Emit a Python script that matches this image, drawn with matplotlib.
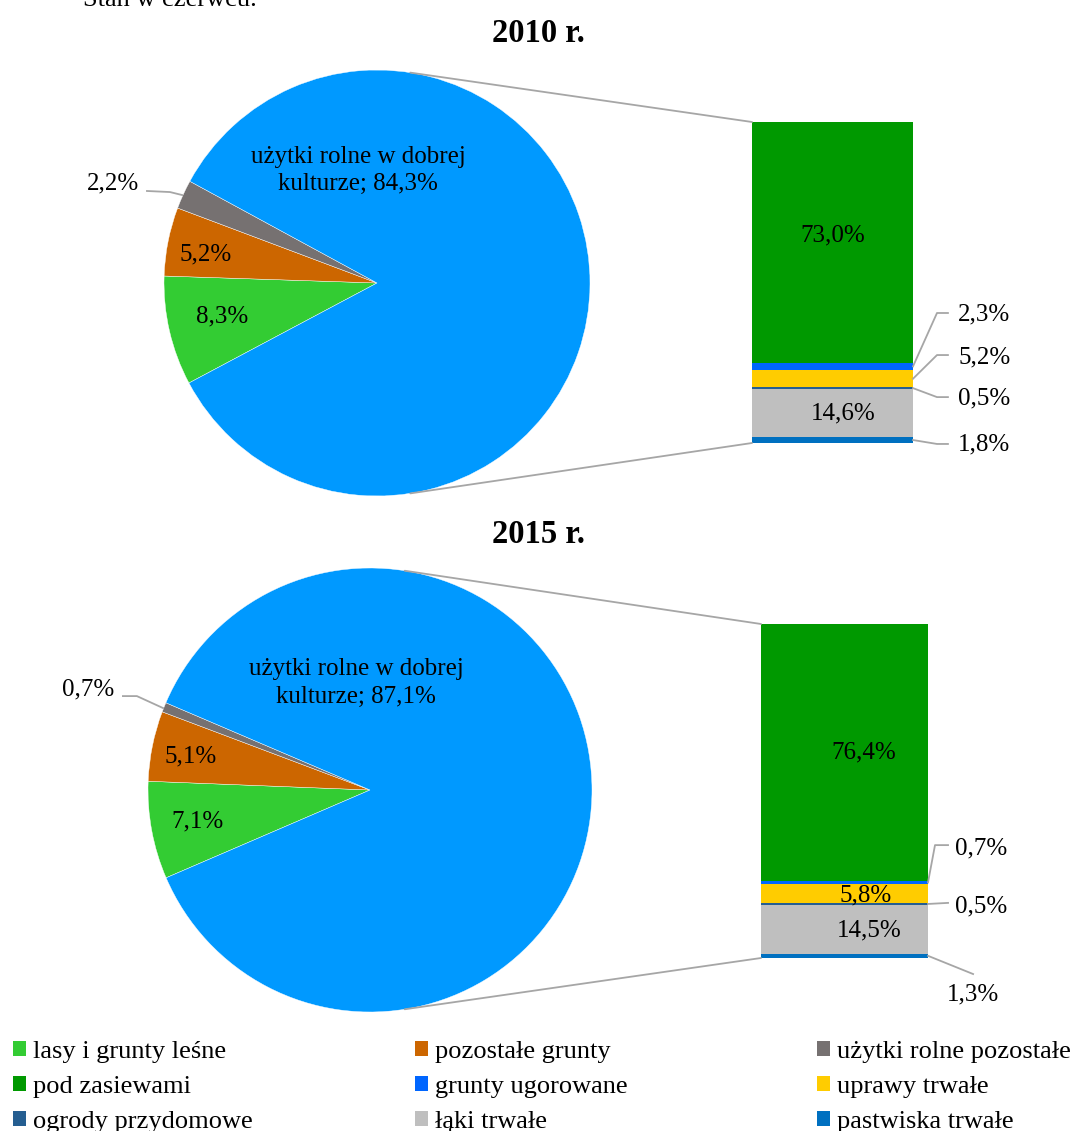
import matplotlib
matplotlib.use("Agg")
import matplotlib.pyplot as plt
from matplotlib.patches import Patch, ConnectionPatch
import numpy as np

plt.rcParams['font.family'] = ['Liberation Serif', 'DejaVu Serif']

# --- data ---
years = ["2010 r.", "2015 r."]
pie_names = ["lasy i grunty leśne", "pozostałe grunty", "użytki rolne pozostałe",
             "użytki rolne w dobrej kulturze"]
pie_2010 = [8.3, 5.2, 2.2, 84.3]
pie_2015 = [7.1, 5.1, 0.7, 87.1]
pie_colors = ["#33CC33", "#CC6600", "#767171", "#0099FF"]

# bar segments from bottom to top
bar_names = ["pastwiska trwałe", "łąki trwałe", "ogrody przydomowe", "uprawy trwałe",
             "grunty ugorowane", "pod zasiewami"]
bar_2010 = [1.8, 14.6, 0.5, 5.2, 2.3, 73.0]
bar_2015 = [1.3, 14.5, 0.5, 5.8, 0.7, 76.4]
bar_colors = ["#0070C0", "#BFBFBF", "#255E91", "#FFCC00", "#0066FF", "#009900"]

W, H = 1073, 1131
fig = plt.figure(figsize=(W / 100, H / 100), dpi=100)


def box(x0, y0, x1, y1):
    return [x0 / W, 1 - y1 / H, (x1 - x0) / W, (y1 - y0) / H]


def pct(v):
    return f"{v:.1f}%".replace(".", ",")


line_c = "#A6A6A6"
fs = 18

layouts = [
    dict(pie_box=(164, 70, 590, 496), bar_box=(752, 122, 913, 443), start=208,
         title_y=42, big_lab=(-0.089, 0.53),
         in_pie={0: (-0.728, -0.155), 1: (-0.803, 0.136)},
         out_pie=(2, (-1.239, 0.469), [(-1.08, 0.432), (-0.972, 0.427), (-0.915, 0.413)]),
         in_bar={5: (0.503, 0.02), 1: (0.565, 0.0)},
         out_bar={4: ([(1.149, 0.405), (1.217, 0.405)], (1.28, 0.40), 'left'),
                  3: ([(1.149, 0.274), (1.217, 0.274)], (1.28, 0.265), 'left'),
                  2: ([(1.149, 0.143), (1.217, 0.143)], (1.28, 0.14), 'left'),
                  0: ([(1.149, -0.003), (1.217, -0.003)], (1.28, -0.006), 'left')}),
    dict(pie_box=(148, 568, 592, 1012), bar_box=(761, 624, 928, 958), start=203.3,
         title_y=543, big_lab=(-0.063, 0.482),
         in_pie={0: (-0.775, -0.14), 1: (-0.81, 0.153)},
         out_pie=(2, (-1.27, 0.455), [(-1.113, 0.423), (-1.05, 0.423), (-0.932, 0.369)]),
         in_bar={5: (0.617, 0.0), 3: (0.629, -0.005), 1: (0.647, -0.005)},
         out_bar={4: ([(1.042, 0.338), (1.12, 0.338)], (1.16, 0.329), 'left'),
                  2: ([(1.12, 0.165)], (1.16, 0.153), 'left'),
                  0: ([(1.27, -0.048)], (1.27, -0.108), 'center')}),
]

fig.text(83 / W, 1 - 6 / H, "Stan w czerwcu.", fontsize=19, va="baseline", ha="left")

for year, pv, bv, lay in zip(years, [pie_2010, pie_2015], [bar_2010, bar_2015], layouts):
    fig.text(538 / W, 1 - lay["title_y"] / H, year, fontsize=23.5, fontweight="bold",
             ha="center", va="baseline")

    # pie
    ax = fig.add_axes(box(*lay["pie_box"]))
    ax.pie(pv, colors=pie_colors, startangle=lay["start"], counterclock=False,
           radius=1, wedgeprops=dict(edgecolor="white", linewidth=0.3))
    ax.set_xlim(-1, 1)
    ax.set_ylim(-1, 1)
    ax.axis("off")
    bx, by = lay["big_lab"]
    ax.text(bx, by, "użytki rolne w dobrej\nkulturze; " + pct(pv[3]), fontsize=fs,
            ha="center", va="center", linespacing=1.3)
    for i, (tx, ty) in lay["in_pie"].items():
        ax.text(tx, ty, pct(pv[i]), fontsize=fs, ha="center", va="center")
    i, (tx, ty), pts = lay["out_pie"]
    pts = np.array(pts)
    ax.plot(pts[:, 0], pts[:, 1], color=line_c, lw=1.3, clip_on=False)
    ax.text(tx, ty, pct(pv[i]), fontsize=fs, ha="center", va="center", clip_on=False)

    # stacked bar
    bax = fig.add_axes(box(*lay["bar_box"]))
    total = sum(bv)
    bottom = 0
    mids = []
    for v, c in zip(bv, bar_colors):
        bax.bar(0, v, width=1, bottom=bottom, color=c, linewidth=0)
        mids.append(bottom + v / 2)
        bottom += v
    bax.set_xlim(-0.5, 0.5)
    bax.set_ylim(0, total)
    bax.axis("off")
    for i, (xf, dy) in lay["in_bar"].items():
        bax.text(xf, mids[i] / total + dy, pct(bv[i]), fontsize=fs, ha="center",
                 va="center", transform=bax.transAxes)
    for i, (pts, (tx, ty), ha) in lay["out_bar"].items():
        xs = [1.0] + [p[0] for p in pts]
        ys = [mids[i] / total] + [p[1] for p in pts]
        bax.plot(xs, ys, color=line_c, lw=1.3, transform=bax.transAxes, clip_on=False)
        bax.text(tx, ty, pct(bv[i]), fontsize=fs, ha=ha, va="center",
                 transform=bax.transAxes, clip_on=False)

    # connectors from pie to bar
    a = np.deg2rad(81)
    for sy, yb in [(1, total), (-1, 0)]:
        con = ConnectionPatch(xyA=(np.cos(a), sy * np.sin(a)), coordsA="data", axesA=ax,
                              xyB=(-0.5, yb), coordsB="data", axesB=bax,
                              color=line_c, lw=1.3)
        fig.add_artist(con)

# legend: three columns
col_items = [
    [(pie_names[0], pie_colors[0]), (bar_names[5], bar_colors[5]), (bar_names[2], bar_colors[2])],
    [(pie_names[1], pie_colors[1]), (bar_names[4], bar_colors[4]), (bar_names[1], bar_colors[1])],
    [(pie_names[2], pie_colors[2]), (bar_names[3], bar_colors[3]), (bar_names[0], bar_colors[0])],
]
for x0, items in zip([13, 415, 817], col_items):
    handles = [Patch(facecolor=c, edgecolor="none", label=n) for n, c in items]
    fig.legend(handles=handles, loc="center left", bbox_to_anchor=(x0 / W, 1 - 1087 / H),
               frameon=False, fontsize=19, handlelength=0.49, handleheight=0.49,
               handletextpad=0.27, labelspacing=0.5, borderpad=0, borderaxespad=0)

fig.savefig("out.png", dpi=100)
